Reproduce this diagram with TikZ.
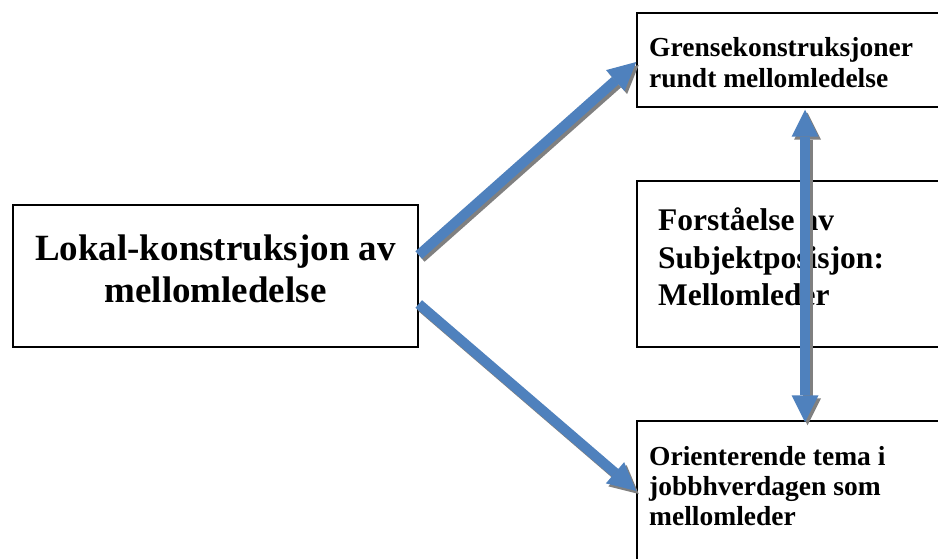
\documentclass[tikz,border=0pt]{standalone}
\usepackage{fontspec}
\setmainfont{Liberation Serif}
\usetikzlibrary{arrows.meta}
\definecolor{arrowblue}{RGB}{79,129,189}
\definecolor{shadowgray}{RGB}{128,128,128}
\tikzset{
  box/.style={draw=black, line width=1.5pt, fill=white, inner sep=0pt},
  txtbig/.style={inner sep=0pt, font=\fontsize{37}{42}\selectfont\bfseries},
  txtmid/.style={inner sep=0pt, anchor=base west, font=\fontsize{31.5}{36}\selectfont\bfseries},
  txtsmall/.style={inner sep=0pt, anchor=base west, font=\fontsize{27.5}{31}\selectfont\bfseries},
  conn/.style={line width=10pt, draw=arrowblue, -{Triangle[width=28pt,length=28pt,line width=0pt]}},
  dconn/.style={line width=10pt, draw=arrowblue, {Triangle[width=27pt,length=27pt,line width=0pt]}-{Triangle[width=27pt,length=27pt,line width=0pt]}},
  shadowed/.style={draw=shadowgray, transform canvas={xshift=2.5pt,yshift=-3pt}}
}
\begin{document}
\begin{tikzpicture}[x=1pt,y=-1pt]
\useasboundingbox (0,0) rectangle (938,559);
\clip (0,0) rectangle (938,559);
\fill[white] (0,0) rectangle (938,559);
% boxes
\node[box, minimum width=405pt, minimum height=142pt] (L) at (215.5,276) {};
\node[box, minimum width=320pt, minimum height=94pt] (T) at (797,60) {};
\node[box, minimum width=320pt, minimum height=166pt] (M) at (797,264) {};
\node[box, minimum width=320pt, minimum height=200pt] (B) at (797,521) {};
% texts
\node[txtbig, anchor=base] (l1) at (215.5,260) {Lokal-konstruksjon av};
\node[txtbig, anchor=base] (l2) at (215.5,302) {mellomledelse};
\node[txtsmall] (t1) at (649,57) {Grensekonstruksjoner};
\node[txtsmall] (t2) at (649,88) {rundt mellomledelse};
\node[txtmid] (m1) at (658,231) {Forståelse av};
\node[txtmid] (m2) at (658,268) {Subjektposisjon:};
\node[txtmid] (m3) at (658,305) {Mellomleder};
\node[txtsmall] (b1) at (649,465) {Orienterende tema i};
\node[txtsmall] (b2) at (649,495) {jobbhverdagen som};
\node[txtsmall] (b3) at (649,525) {mellomleder};
% shadows
\draw[conn, shadowed] ([yshift=21pt]L.east) -- ([yshift=-2pt]T.west);
\draw[conn, shadowed] ([yshift=-28pt]L.east) -- ([yshift=30pt]B.west);
\draw[dconn, shadowed] ([xshift=8pt,yshift=-2pt]T.south) -- ([xshift=8pt,yshift=-2pt]B.north);
% arrows
\draw[conn] ([yshift=21pt]L.east) -- ([yshift=-2pt]T.west);
\draw[conn] ([yshift=-28pt]L.east) -- ([yshift=30pt]B.west);
\draw[dconn] ([xshift=8pt,yshift=-2pt]T.south) -- ([xshift=8pt,yshift=-2pt]B.north);
\end{tikzpicture}
\end{document}
